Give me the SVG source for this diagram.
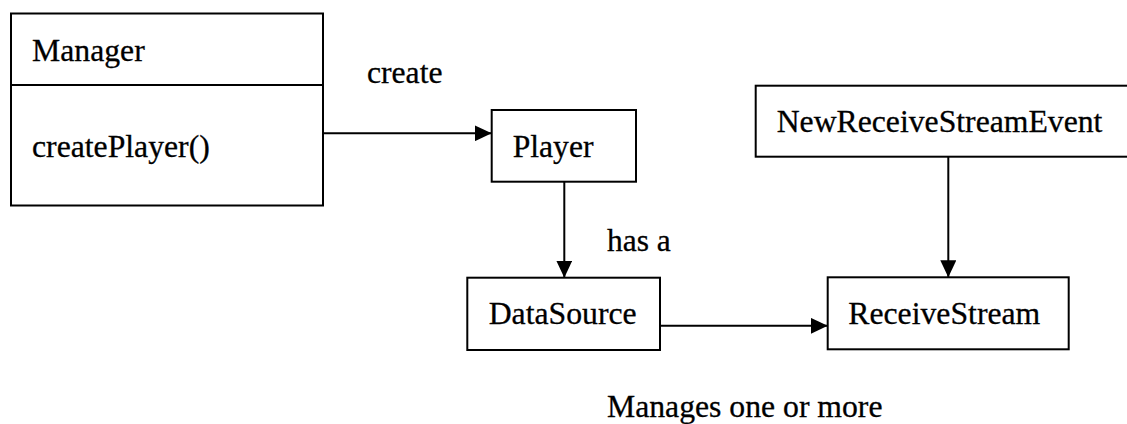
<svg xmlns="http://www.w3.org/2000/svg" width="1127" height="424" viewBox="0 0 1127 424">
  <style>
    .box { fill: #fff; stroke: #000; stroke-width: 2; }
    .edge { fill: none; stroke: #000; stroke-width: 2; marker-end: url(#arrow); }
    .lbl { font-family: 'Liberation Serif', 'Times New Roman', Times, serif; font-size: 32.5px; fill: #000; stroke: #000; stroke-width: 0.3; }
  </style>
  <defs>
    <marker id="arrow" markerUnits="userSpaceOnUse" markerWidth="17" markerHeight="16" refX="17" refY="8" orient="auto">
      <path d="M0,0 L17,8 L0,16 z" fill="#000"/>
    </marker>
  </defs>
  <rect width="1127" height="424" fill="#fff"/>

  <!-- associations and their labels -->
  <g id="connectors">
    <line class="edge" x1="323" y1="133.3" x2="491.7" y2="133.3"/>
    <line class="edge" x1="564.3" y1="181.7" x2="564.3" y2="277.7"/>
    <line class="edge" x1="660" y1="325.8" x2="827.7" y2="325.8"/>
    <line class="edge" x1="948.3" y1="156.7" x2="948.3" y2="277.3"/>
    <text class="lbl" x="367" y="82.7" textLength="75.5" lengthAdjust="spacingAndGlyphs">create</text>
    <text class="lbl" x="607" y="250.7" textLength="63.8" lengthAdjust="spacingAndGlyphs">has a</text>
    <text class="lbl" x="607" y="417" textLength="275.5" lengthAdjust="spacingAndGlyphs">Manages one or more</text>
  </g>

  <g id="manager">
    <rect class="box" x="11" y="13.5" width="312" height="192"/>
    <line x1="11" y1="85" x2="323" y2="85" stroke="#000" stroke-width="2"/>
    <text class="lbl" x="32" y="60.7" textLength="112.7" lengthAdjust="spacingAndGlyphs">Manager</text>
    <text class="lbl" x="32" y="156.5" textLength="177.8" lengthAdjust="spacingAndGlyphs">createPlayer()</text>
  </g>

  <g id="player">
    <rect class="box" x="491.7" y="110" width="144.3" height="71.7"/>
    <text class="lbl" x="512.7" y="156.7" textLength="80.8" lengthAdjust="spacingAndGlyphs">Player</text>
  </g>

  <g id="datasource">
    <rect class="box" x="467.3" y="277.7" width="192.7" height="72.3"/>
    <text class="lbl" x="488.7" y="324" textLength="148" lengthAdjust="spacingAndGlyphs">DataSource</text>
  </g>

  <g id="receivestream">
    <rect class="box" x="827.7" y="277.3" width="241" height="72"/>
    <text class="lbl" x="848.3" y="324" textLength="192" lengthAdjust="spacingAndGlyphs">ReceiveStream</text>
  </g>

  <g id="newreceivestreamevent">
    <rect class="box" x="755.7" y="85.7" width="380" height="71"/>
    <text class="lbl" x="776.7" y="131.7" textLength="325.7" lengthAdjust="spacingAndGlyphs">NewReceiveStreamEvent</text>
  </g>
</svg>
